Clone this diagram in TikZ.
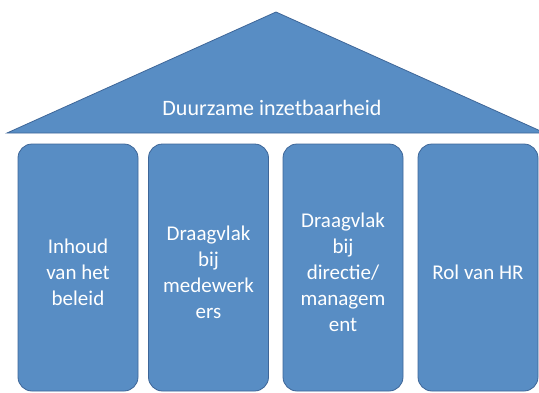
\documentclass[tikz,border=0pt]{standalone}
\usepackage{fontspec}
\setmainfont{Carlito}
\usetikzlibrary{positioning}
\definecolor{pillarblue}{RGB}{88,141,196}
\definecolor{pillaredge}{RGB}{62,102,152}

\begin{document}
\begin{tikzpicture}[x=1pt,y=-1pt,
		pillar/.style={draw=pillaredge, fill=pillarblue, line width=0.8pt, rounded corners=14pt,
			minimum width=120pt, minimum height=247pt, inner sep=0pt},
		pillartext/.style={text=white, align=center, font=\fontsize{21}{26}\selectfont, yshift=-5pt},
		roof/.style={draw=pillaredge, fill=pillarblue, line width=0.8pt, line join=miter}]
			\useasboundingbox (0,0) rectangle (539,392);

			% roof
			\coordinate (RL) at (7,133);
			\coordinate (RT) at (276,12);
			\coordinate (RR) at (545,133);
			\path[roof] (RL) -- (RT) -- (RR) -- cycle;
			\node[text=white, font=\fontsize{22}{26}\selectfont] (title) at (272,108) {Duurzame inzetbaarheid};

			% pillars
			\node[pillar, label={[pillartext]center:Inhoud\\van het\\beleid}] (P1) at (78,267.5) {};
			\node[pillar, label={[pillartext]center:Draagvlak\\bij\\medewerk\\ers}] (P2) at (208.5,267.5) {};
			\node[pillar, label={[pillartext]center:Draagvlak\\bij\\directie/\\managem\\ent}] (P3) at (343,267.5) {};
			\node[pillar, label={[pillartext]center:Rol van HR}] (P4) at (478,267.5) {};
		\end{tikzpicture}
\end{document}
